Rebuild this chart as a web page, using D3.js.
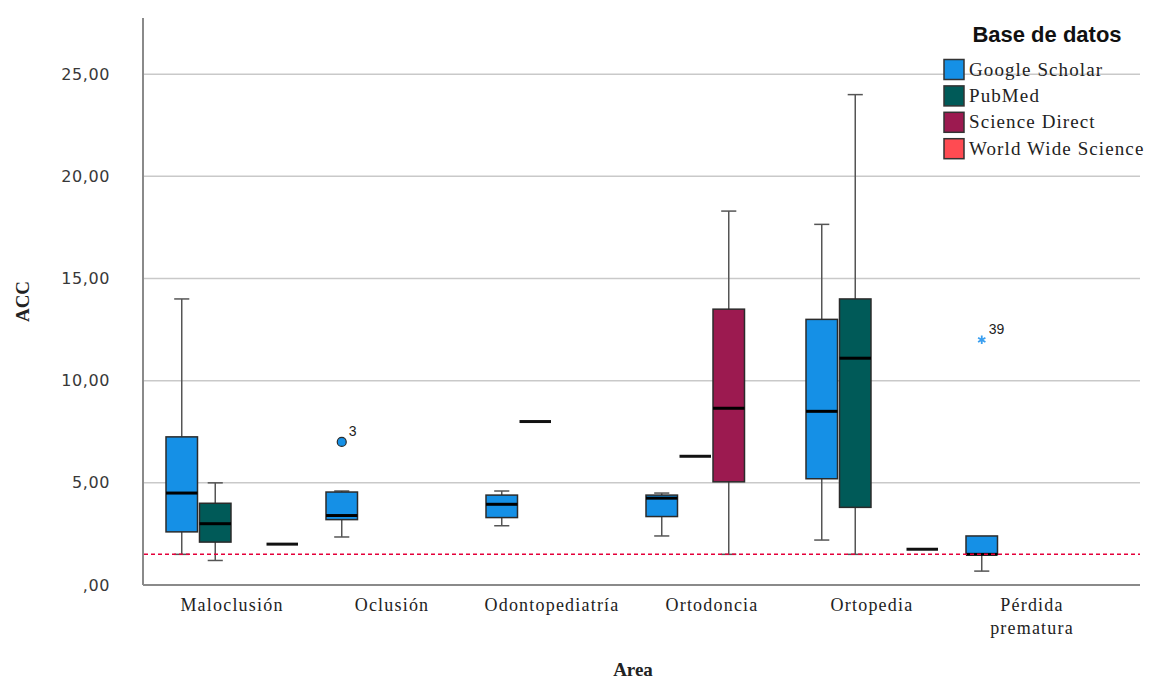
<!DOCTYPE html>
<html>
<head>
<meta charset="utf-8">
<script src="https://cdn.jsdelivr.net/npm/d3@7"></script>
<style>
  html, body { margin: 0; padding: 0; background: #fff; }
  svg { display: block; }
</style>
</head>
<body>
<svg id="chart" width="1151" height="680"></svg>
<script>
// Areas on the x axis
const categories = ["Maloclusión", "Oclusión", "Odontopediatría", "Ortodoncia", "Ortopedia", "Pérdida prematura"];
// Databases (legend order)
const seriesNames = ["Google Scholar", "PubMed", "Science Direct", "World Wide Science"];
const seriesColors = ["#1590e6", "#005a58", "#9c1a50", "#ff4b52"];

// Box statistics per area: [lower whisker, Q1, median, Q3, upper whisker]; null = no data
const googleScholar = [
  [1.5, 2.6, 4.5, 7.25, 14.0],
  [2.35, 3.2, 3.4, 4.55, 4.6],
  [2.9, 3.3, 3.95, 4.4, 4.6],
  [2.4, 3.35, 4.25, 4.4, 4.5],
  [2.2, 5.2, 8.5, 13.0, 17.65],
  [0.68, 1.5, 1.5, 2.4, 2.4]
];
const pubMed = [
  [1.2, 2.1, 3.0, 4.0, 5.0],
  null,
  [8.0, 8.0, 8.0, 8.0, 8.0],
  [6.3, 6.3, 6.3, 6.3, 6.3],
  [1.5, 3.8, 11.1, 14.0, 24.0],
  null
];
const scienceDirect = [
  null, null, null,
  [1.5, 5.05, 8.65, 13.5, 18.3],
  null, null
];
const worldWideScience = [
  [2.0, 2.0, 2.0, 2.0, 2.0],
  null, null, null,
  [1.75, 1.75, 1.75, 1.75, 1.75],
  null
];
const seriesStats = [googleScholar, pubMed, scienceDirect, worldWideScience];

// Outlying cases: area, database, value, case label, marker kind
const outlierArea = ["Oclusión", "Pérdida prematura"];
const outlierSeries = ["Google Scholar", "Google Scholar"];
const outlierValue = [7.0, 12.0];
const outlierLabel = ["3", "39"];
const outlierKind = ["circle", "star"];

// Y ticks and reference line
const yTicks = [0, 5, 10, 15, 20, 25];
const yMax = 27.75;
const referenceValue = 1.5;

const svg = d3.select("#chart");
const plotLeft = 143, plotRight = 1140, plotTop = 18, plotBottom = 585;

const y = d3.scaleLinear().domain([0, yMax]).range([plotBottom, plotTop]);
const x = d3.scaleBand().domain(categories).range([152, 1112]);
const xs = d3.scaleBand().domain(seriesNames).range([14, 146]).paddingInner(0.06);
const color = d3.scaleOrdinal().domain(seriesNames).range(seriesColors);

const serif = "'Liberation Serif', 'Times New Roman', serif";
const sans = "'DejaVu Sans', Verdana, sans-serif";
const fmt = v => v === 0 ? ",00" : d3.format(".2f")(v).replace(".", ",");

// Gridlines
svg.append("g")
  .selectAll("line")
  .data(yTicks.filter(d => d > 0))
  .join("line")
  .attr("x1", plotLeft).attr("x2", plotRight)
  .attr("y1", d => y(d)).attr("y2", d => y(d))
  .attr("stroke", "#c9c9c9").attr("stroke-width", 1.5);

// Y axis
const yAxis = svg.append("g")
  .attr("transform", `translate(${plotLeft},0)`)
  .call(d3.axisLeft(y).tickValues(yTicks).tickFormat(fmt).tickSize(0).tickPadding(33));
yAxis.select(".domain").remove();
yAxis.selectAll("text")
  .attr("font-family", sans).attr("font-size", 16).attr("fill", "#383838")
  .attr("letter-spacing", 0.6);

// X axis
const xAxis = svg.append("g")
  .attr("transform", `translate(0,${plotBottom})`)
  .call(d3.axisBottom(x).tickSize(0).tickPadding(13));
xAxis.select(".domain").remove();
xAxis.selectAll("text").each(function(d) {
  const t = d3.select(this);
  const words = d === "Pérdida prematura" ? ["Pérdida", "prematura"] : [d];
  t.text(null)
    .attr("font-family", serif).attr("font-size", 18).attr("fill", "#222")
    .attr("letter-spacing", 1.2);
  words.forEach((w, i) => {
    t.append("tspan").attr("x", 0).attr("dy", i === 0 ? "0.71em" : "1.3em").text(w);
  });
});

// Axis lines
svg.append("line")
  .attr("x1", plotLeft).attr("x2", plotLeft).attr("y1", plotTop).attr("y2", plotBottom)
  .attr("stroke", "#8a8a8a").attr("stroke-width", 2);
svg.append("line")
  .attr("x1", plotLeft).attr("x2", plotRight).attr("y1", plotBottom).attr("y2", plotBottom)
  .attr("stroke", "#8a8a8a").attr("stroke-width", 2);

// Boxes
const boxes = [];
seriesStats.forEach((arr, si) => {
  arr.forEach((s, ci) => {
    if (s) boxes.push({ area: categories[ci], series: seriesNames[si], s });
  });
});

const bw = xs.bandwidth();
const boxG = svg.append("g");
boxes.forEach(b => {
  const x0 = x(b.area) + xs(b.series);
  const cx = x0 + bw / 2;
  const [lo, q1, med, q3, hi] = b.s;
  const g = boxG.append("g");
  if (q1 === q3) {
    // a single case: only the median bar
    g.append("line")
      .attr("x1", x0).attr("x2", x0 + bw)
      .attr("y1", y(med)).attr("y2", y(med))
      .attr("stroke", "#111").attr("stroke-width", 3);
    return;
  }
  const capW = bw * 0.48;
  const whisk = [[hi, q3], [lo, q1]];
  whisk.forEach(([a, bq]) => {
    if (a === bq) return;
    g.append("line").attr("x1", cx).attr("x2", cx).attr("y1", y(a)).attr("y2", y(bq))
      .attr("stroke", "#555").attr("stroke-width", 1.5);
    g.append("line").attr("x1", cx - capW / 2).attr("x2", cx + capW / 2).attr("y1", y(a)).attr("y2", y(a))
      .attr("stroke", "#555").attr("stroke-width", 1.5);
  });
  g.append("rect")
    .attr("x", x0).attr("width", bw)
    .attr("y", y(q3)).attr("height", y(q1) - y(q3))
    .attr("fill", color(b.series)).attr("stroke", "#2b2b2b").attr("stroke-width", 1.5);
  g.append("line")
    .attr("x1", x0).attr("x2", x0 + bw)
    .attr("y1", y(med)).attr("y2", y(med))
    .attr("stroke", "#000").attr("stroke-width", 3);
});

// Reference line
svg.append("line")
  .attr("x1", plotLeft + 1).attr("x2", plotRight)
  .attr("y1", y(referenceValue)).attr("y2", y(referenceValue))
  .attr("stroke", "#e4003a").attr("stroke-width", 1.5).attr("stroke-dasharray", "4,3");

// Outliers
outlierValue.forEach((v, i) => {
  const cx = x(outlierArea[i]) + xs(outlierSeries[i]) + bw / 2;
  const cy = y(v);
  if (outlierKind[i] === "circle") {
    svg.append("circle").attr("cx", cx).attr("cy", cy).attr("r", 4.5)
      .attr("fill", color(outlierSeries[i])).attr("stroke", "#2b2b2b").attr("stroke-width", 1.2);
  } else {
    svg.append("path")
      .attr("d", d3.symbol(d3.symbolAsterisk, 50)())
      .attr("transform", `translate(${cx},${cy})`)
      .attr("stroke", "#3a9ff0").attr("stroke-width", 1.8).attr("fill", "none");
  }
  svg.append("text")
    .attr("x", cx + 7).attr("y", cy - 6)
    .attr("font-family", "'Liberation Sans', Arial, sans-serif").attr("font-size", 14)
    .attr("fill", "#222").text(outlierLabel[i]);
});

// Axis titles
svg.append("text")
  .attr("transform", `translate(29,${(plotTop + plotBottom) / 2}) rotate(-90)`)
  .attr("text-anchor", "middle")
  .attr("font-family", serif).attr("font-weight", "bold").attr("font-size", 19)
  .attr("fill", "#222").text("ACC");
svg.append("text")
  .attr("x", 633).attr("y", 676)
  .attr("text-anchor", "middle")
  .attr("font-family", serif).attr("font-weight", "bold").attr("font-size", 19)
  .attr("fill", "#222").text("Area");

// Legend
const legend = svg.append("g");
legend.append("text")
  .attr("x", 1047).attr("y", 42)
  .attr("text-anchor", "middle")
  .attr("font-family", "'Liberation Sans', Arial, sans-serif").attr("font-weight", "bold")
  .attr("font-size", 22).attr("fill", "#111").text("Base de datos");
seriesNames.forEach((name, i) => {
  const ry = 59.5 + i * 26.4;
  legend.append("rect")
    .attr("x", 944).attr("y", ry).attr("width", 20).attr("height", 20)
    .attr("fill", color(name)).attr("stroke", "#333").attr("stroke-width", 1.5);
  legend.append("text")
    .attr("x", 969).attr("y", ry + 16)
    .attr("font-family", serif).attr("font-size", 19).attr("fill", "#222")
    .attr("letter-spacing", 1.1)
    .text(name);
});
</script>
</body>
</html>
